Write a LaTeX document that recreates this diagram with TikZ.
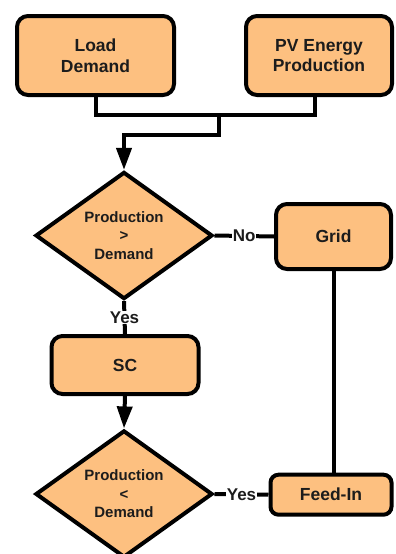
\documentclass[tikz,border=0pt]{standalone}
\usepackage{fontspec}
\setmainfont{Liberation Sans}
\usetikzlibrary{shapes.geometric,arrows.meta}
\definecolor{boxfill}{HTML}{FDC080}
\definecolor{ink}{HTML}{1C1C1C}
\begin{document}
\begin{tikzpicture}[x=1pt,y=1pt,
  line width=4pt,
  box/.style={draw=black, fill=boxfill, rounded corners=11pt, text=ink,
    font=\bfseries\fontsize{17.5}{20.5}\selectfont, align=center, inner sep=0pt},
  decision/.style={diamond, draw=black, fill=boxfill, text=ink,
    font=\bfseries\fontsize{15}{18.5}\selectfont, align=center, inner sep=0pt,
    minimum width=177pt, minimum height=120pt},
  conn/.style={draw=black, line width=4pt},
  arr/.style={conn, -{Triangle[length=22pt,width=15pt]}},
  lbl/.style={fill=white, text=ink, font=\bfseries\fontsize{17}{20}\selectfont, inner sep=0.5pt}
]
\useasboundingbox (0,0) rectangle (396,-554);
\node[box, minimum width=157pt, minimum height=79pt] (load) at (95.5,-55.5) {Load\\Demand};
\node[box, minimum width=146pt, minimum height=79pt] (pv) at (319,-55.5) {PV Energy\\Production};
\node[decision] (d1) at (124,-235.5) {Production\\>\\Demand};
\node[box, minimum width=115pt, minimum height=65pt] (grid) at (333.5,-236.5) {Grid};
\node[box, minimum width=147pt, minimum height=58pt] (sc) at (125,-365) {SC};
\node[decision] (d2) at (124,-494) {Production\\<\\Demand};
\node[box, minimum width=121pt, minimum height=40pt, rounded corners=8pt] (feed) at (331,-494.7) {Feed-In};
\coordinate (j1) at (218.5,-115);
\coordinate (j2) at (218.5,-135);
\draw[conn] (load.south) |- (j1) -| ([xshift=-4pt]pv.south);
\draw[arr] (j1) -- (j2) -| (d1.north);
\draw[conn] (d1.east) -- node[lbl]{No} (grid.west);
\draw[conn] (grid.south) -- (grid.south |- feed.north);
\draw[conn] (d1.south) -- node[lbl]{Yes} (sc.north);
\draw[arr] (sc.south) -- (d2.north);
\draw[conn] (d2.east) -- node[lbl]{Yes} (feed.west);
\end{tikzpicture}
\end{document}
